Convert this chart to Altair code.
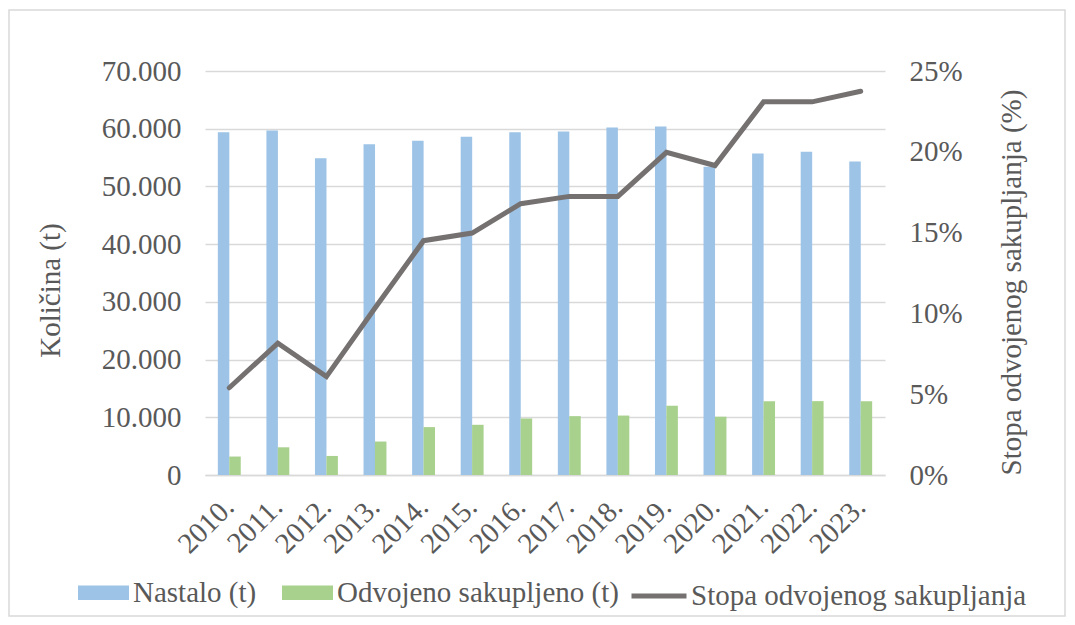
import altair as alt
import pandas as pd

years = ["2010.", "2011.", "2012.", "2013.", "2014.", "2015.", "2016.",
         "2017.", "2018.", "2019.", "2020.", "2021.", "2022.", "2023."]
nastalo = [59400, 59700, 54900, 57300, 57900, 58600, 59400,
           59500, 60200, 60400, 53400, 55700, 56000, 54300]
odvojeno = [3200, 4800, 3300, 5800, 8300, 8700, 9800,
            10200, 10300, 12000, 10100, 12800, 12800, 12800]
stopa = [0.054, 0.0816, 0.0609, 0.1033, 0.145, 0.1497, 0.1679,
         0.1724, 0.1724, 0.1997, 0.1915, 0.2309, 0.2309, 0.2375]

s1 = "Nastalo (t)"
s2 = "Odvojeno sakupljeno (t)"
s3 = "Stopa odvojenog sakupljanja"

bars_df = pd.DataFrame(
    [{"year": y, "series": s1, "value": v} for y, v in zip(years, nastalo)]
    + [{"year": y, "series": s2, "value": v} for y, v in zip(years, odvojeno)]
)
line_df = pd.DataFrame({"year": years, "rate": stopa, "series": [s3] * len(years)})

FONT = "Liberation Serif"
TXT = "#595959"
FS = 29

xenc = alt.X(
    "year:N",
    sort=years,
    scale=alt.Scale(paddingInner=0.53, paddingOuter=0.265),
    axis=alt.Axis(
        title=None, labelAngle=315, labelAlign="right", labelBaseline="middle",
        labelPadding=27, ticks=False, domainColor="#d9d9d9", domainWidth=1.5,
        labelFont=FONT, labelFontSize=FS, labelColor=TXT, grid=False,
    ),
)

bars = alt.Chart(bars_df).mark_bar(size=11.5).encode(
    x=xenc,
    xOffset=alt.XOffset("series:N", sort=[s1, s2], scale=alt.Scale(paddingInner=0, paddingOuter=0)),
    y=alt.Y(
        "value:Q",
        scale=alt.Scale(domain=[0, 70000], nice=False),
        axis=alt.Axis(
            title="Količina (t)", values=list(range(0, 70001, 10000)),
            labelExpr="replace(format(datum.value, ','), ',', '.')",
            orient="left", ticks=False, domain=False, labelPadding=24,
            grid=True, gridColor="#d9d9d9", gridWidth=1.5,
            labelFont=FONT, labelFontSize=FS, labelColor=TXT,
            titleFont=FONT, titleFontSize=FS, titleColor=TXT, titleFontWeight="normal",
            titlePadding=36, titleY=219,
        ),
    ),
    color=alt.Color(
        "series:N",
        scale=alt.Scale(domain=[s1, s2], range=["#9dc3e6", "#a9d18e"]),
        legend=alt.Legend(
            orient="none", legendX=-127, legendY=496, direction="horizontal",
            title=None, symbolType="M-1,-0.28L1,-0.28L1,0.28L-1,0.28Z",
            symbolSize=2601, symbolStrokeWidth=0, labelOffset=4, columnPadding=25,
            labelFont=FONT, labelFontSize=FS, labelColor=TXT, padding=0, labelLimit=1000,
        ),
    ),
)

line = alt.Chart(line_df).mark_line(strokeWidth=5, strokeCap="round", strokeJoin="miter").encode(
    x=alt.X("year:N", sort=years),
    y=alt.Y(
        "rate:Q",
        scale=alt.Scale(domain=[0, 0.25], nice=False),
        axis=alt.Axis(
            title="Stopa odvojenog sakupljanja (%)", orient="right",
            values=[0, 0.05, 0.1, 0.15, 0.2, 0.25], format=".0%",
            ticks=False, domain=False, grid=False, labelPadding=24,
            labelFont=FONT, labelFontSize=FS, labelColor=TXT,
            titleFont=FONT, titleFontSize=FS, titleColor=TXT, titleFontWeight="normal",
            titleAngle=270, titlePadding=64, titleY=211,
        ),
    ),
    stroke=alt.Stroke(
        "series:N",
        scale=alt.Scale(domain=[s3], range=["#767171"]),
        legend=alt.Legend(
            orient="none", legendX=424, legendY=495, title=None,
            symbolType="stroke", symbolSize=3025, symbolStrokeWidth=5,
            labelOffset=2, labelFont=FONT, labelFontSize=FS, labelColor=TXT, padding=0,
            labelLimit=1000,
        ),
    ),
)

frame = alt.Chart(pd.DataFrame({"a": [0]})).mark_rect(
    fill=None, stroke="#d9d9d9", strokeWidth=1.5
).encode(
    x=alt.value(-196), x2=alt.value(860), y=alt.value(-61), y2=alt.value(545)
)

chart = alt.layer(bars, line, frame).resolve_scale(
    y="independent", color="independent"
).properties(
    width=680, height=404,
    autosize=alt.AutoSizeParams(type="none"),
    padding={"left": 197, "top": 63, "right": 182, "bottom": 142},
).configure(font=FONT).configure_view(stroke=None).configure_axis(
    titleFont=FONT, labelFont=FONT
).configure_legend(labelFont=FONT)

chart.save("out.html", embed_options={"renderer": "svg", "actions": False})
